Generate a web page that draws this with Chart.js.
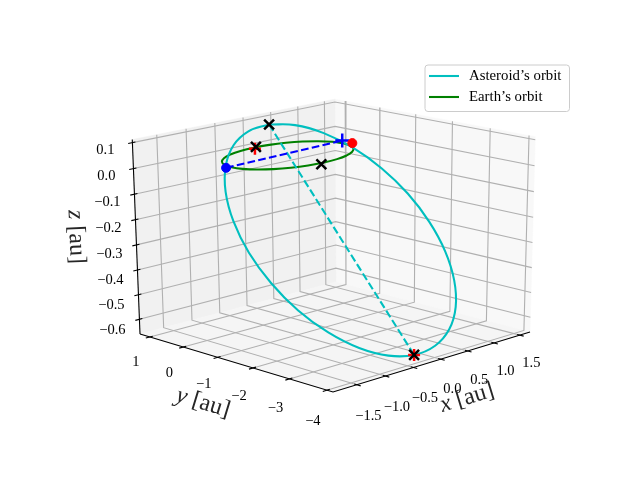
<!DOCTYPE html>
<html>
<head>
<meta charset="utf-8">
<script src="https://cdn.jsdelivr.net/npm/chart.js@4/dist/chart.umd.js"></script>
<style>
html, body { margin: 0; padding: 0; background: #fff; }
canvas { display: block; }
</style>
</head>
<body>
<canvas id="orbits" width="640" height="480"></canvas>
<script>
// values, in au
const xTicks = [-1.5, -1.0, -0.5, 0.0, 0.5, 1.0, 1.5];
const yTicks = [-4, -3, -2, -1, 0, 1];
const zTicks = [-0.6, -0.5, -0.4, -0.3, -0.2, -0.1, 0.0, 0.1];
const xTickLabels = ['−1.5', '−1.0', '−0.5', '0.0', '0.5', '1.0', '1.5'];
const yTickLabels = ['−4', '−3', '−2', '−1', '0', '1'];
const zTickLabels = ['−0.6', '−0.5', '−0.4', '−0.3', '−0.2', '−0.1', '0.0', '0.1'];
const xLim = [-1.91, 1.70];
const yLim = [-4.16, 1.30];
const zLim = [-0.66, 0.112];

const asteroidX = [0.067, 0.460, 0.810, 1.093, 1.289, 1.386, 1.376, 1.260, 1.046, 0.749, 0.389, -0.010,
    -0.420, -0.798, -1.133, -1.404, -1.590, -1.681, -1.669, -1.555, -1.347, -1.059, -0.712, -0.327, 0.067];
const asteroidY = [0.650, 0.529, 0.255, -0.152, -0.664, -1.248, -1.863, -2.467, -3.019, -3.482, -3.823, -4.021,
    -4.060, -3.940, -3.668, -3.263, -2.751, -2.168, -1.553, -0.949, -0.396, 0.068, 0.410, 0.609, 0.650];
const asteroidZ = [0.099, 0.082, 0.042, -0.019, -0.096, -0.184, -0.278, -0.370, -0.455, -0.527, -0.580, -0.612,
    -0.620, -0.603, -0.563, -0.502, -0.426, -0.337, -0.244, -0.151, -0.066, 0.006, 0.060, 0.091, 0.099];

const earthX = [1, 0.966, 0.866, 0.707, 0.5, 0.259, 0, -0.259, -0.5, -0.707, -0.866, -0.966,
    -1, -0.966, -0.866, -0.707, -0.5, -0.259, 0, 0.259, 0.5, 0.707, 0.866, 0.966, 1];
const earthY = [0, 0.259, 0.5, 0.707, 0.866, 0.966, 1, 0.966, 0.866, 0.707, 0.5, 0.259,
    0, -0.259, -0.5, -0.707, -0.866, -0.966, -1, -0.966, -0.866, -0.707, -0.5, -0.259, 0];
const earthZ = [0, 0, 0, 0, 0, 0, 0, 0, 0, 0, 0, 0, 0, 0, 0, 0, 0, 0, 0, 0, 0, 0, 0, 0, 0];

const apsideLine = [[0.067, 0.650, 0.099], [-0.420, -4.060, -0.620]];
const nodeLine = [[-1.07, 0.04, 0], [1.0, 0.02, 0.01]];
const blackCrosses = [[0.067, 0.650, 0.099], [-0.420, -4.060, -0.620], [0.05, 1.02, 0], [-0.09, -1.07, 0]];
const redPluses = [[-0.420, -4.060, -0.620], [0.02, 1.0, -0.005]];
const blueDot = [[-1.07, 0.04, 0]];
const redDot = [[1.09, -0.13, 0]];
const bluePlus = [[1.0, 0.02, 0.01]];

const legendLabels = ['Asteroid’s orbit', 'Earth’s orbit'];

// projective camera fitted to the corners of the box
function project(x, y, z) {
    var u = (x - xLim[0]) / (xLim[1] - xLim[0]);
    var v = (y - yLim[0]) / (yLim[1] - yLim[0]);
    var w = (z - zLim[0]) / (zLim[1] - zLim[0]);
    var d = 1 + 0.0762 * u + 0.0806 * v - 0.035 * w;
    return {
        x: (237.4 * u - 181.7 * v - 13 * w + 333) / d,
        y: (-34.7 * u - 31.1 * v - 215 * w + 392) / d
    };
}

function pts(list) {
    return list.map(function (p) { return project(p[0], p[1], p[2]); });
}

function zip3(a, b, c) {
    return a.map(function (v, i) { return [v, b[i], c[i]]; });
}

var datasets = [];

function addLine(list, color, width, extra) {
    datasets.push(Object.assign({
        data: pts(list),
        showLine: true,
        borderColor: color,
        borderWidth: width,
        pointRadius: 0,
        tension: 0,
        fill: false
    }, extra || {}));
}

function addMarks(list, style, color, radius, width) {
    datasets.push({
        data: pts(list),
        showLine: false,
        pointStyle: style,
        pointRadius: radius,
        pointBorderColor: color,
        pointBackgroundColor: color,
        pointBorderWidth: width
    });
}

var x0 = xLim[0], x1 = xLim[1], y0 = yLim[0], y1 = yLim[1], z0 = zLim[0], z1 = zLim[1];

// panes
function addPane(list, color) {
    addLine(list, color, 0.5, { backgroundColor: color, fill: 'shape' });
}
addPane([[x1, y0, z0], [x1, y1, z0], [x1, y1, z1], [x1, y0, z1], [x1, y0, z0]], '#f8f8f8');
addPane([[x0, y1, z0], [x1, y1, z0], [x1, y1, z1], [x0, y1, z1], [x0, y1, z0]], '#f1f1f1');
addPane([[x0, y0, z0], [x1, y0, z0], [x1, y1, z0], [x0, y1, z0], [x0, y0, z0]], '#f5f5f5');

// grid
var gridColor = '#b0b0b0';
xTicks.forEach(function (t) {
    addLine([[t, y1, z1], [t, y1, z0], [t, y0, z0]], gridColor, 1.1);
});
yTicks.forEach(function (t) {
    addLine([[x1, t, z1], [x1, t, z0], [x0, t, z0]], gridColor, 1.1);
});
zTicks.forEach(function (t) {
    addLine([[x0, y1, t], [x1, y1, t], [x1, y0, t]], gridColor, 1.1);
});

// axes and ticks
addLine([[x0, y1, z0], [x0, y0, z0], [x1, y0, z0]], '#000', 1.1);
addLine([[x0, y1, z0], [x0, y1, z1]], '#000', 1.1);
xTicks.forEach(function (t) {
    addLine([[t, y0 + 0.07, z0], [t, y0 - 0.1, z0]], '#000', 1.1);
});
yTicks.forEach(function (t) {
    addLine([[x0 + 0.05, t, z0], [x0 - 0.07, t, z0]], '#000', 1.1);
});
zTicks.forEach(function (t) {
    addLine([[x0 + 0.05, y1, t], [x0 - 0.07, y1, t]], '#000', 1.1);
});

// orbits
addLine(zip3(earthX, earthY, earthZ), '#008000', 2.08, { tension: 0.4 });
addLine(zip3(asteroidX, asteroidY, asteroidZ), '#00bfbf', 2.08, { tension: 0.4 });
addLine(apsideLine, '#00bfbf', 2.08, { borderDash: [7.7, 3.3] });
addLine(nodeLine, '#0000ff', 2.08, { borderDash: [7.7, 3.3] });

// markers
addMarks(redPluses, 'cross', '#ff0000', 6, 2.5);
addMarks(blackCrosses, 'crossRot', '#000', 7, 2.5);
addMarks(bluePlus, 'cross', '#0000ff', 7, 2.5);
addMarks(blueDot, 'circle', '#0000ff', 4.5, 1);
addMarks(redDot, 'circle', '#ff0000', 4.5, 1);

var serif = '"Liberation Serif", serif';

function drawLabel(ctx, parts, cx, cy, angle) {
    ctx.save();
    ctx.translate(cx, cy);
    ctx.rotate(angle * Math.PI / 180);
    ctx.textBaseline = 'middle';
    ctx.textAlign = 'left';
    var total = 0;
    parts.forEach(function (p) {
        ctx.font = p.font;
        total += ctx.measureText(p.text).width;
    });
    var pos = -total / 2;
    parts.forEach(function (p) {
        ctx.font = p.font;
        ctx.fillText(p.text, pos, 0);
        pos += ctx.measureText(p.text).width;
    });
    ctx.restore();
}

function axisLabel(letter) {
    return [
        { text: letter, font: 'italic 24px ' + serif },
        { text: ' [au]', font: '24px ' + serif }
    ];
}

var textPlugin = {
    id: 'textPlugin',
    afterDraw: function (chart) {
        var ctx = chart.ctx;
        ctx.save();
        ctx.fillStyle = '#000';
        ctx.textAlign = 'center';
        ctx.textBaseline = 'middle';
        ctx.font = '14.5px ' + serif;
        // label gap grows a bit towards the viewer
        xTicks.forEach(function (t, i) {
            var p = project(t, y0, z0);
            ctx.fillText(xTickLabels[i], p.x + 11.5, p.y + 31.3 - (i / 6) * 3.3);
        });
        yTicks.forEach(function (t, i) {
            var p = project(x0, t, z0);
            ctx.fillText(yTickLabels[i], p.x - 14, p.y + 30.8 - (i / 5) * 5.8);
        });
        zTicks.forEach(function (t, i) {
            var p = project(x0, y1, t);
            ctx.fillText(zTickLabels[i], p.x - 27, p.y + 10.8 - (i / 7) * 3.3);
        });

        ctx.fillStyle = '#262626';
        drawLabel(ctx, axisLabel('x'), 467, 398, -17);
        drawLabel(ctx, axisLabel('y'), 203, 403, 17);
        drawLabel(ctx, axisLabel('z'), 76, 237, 87.6);

        // legend
        ctx.beginPath();
        ctx.roundRect(425, 65, 144.5, 46.5, 3);
        ctx.fillStyle = 'rgba(255,255,255,0.8)';
        ctx.fill();
        ctx.strokeStyle = '#cccccc';
        ctx.lineWidth = 1;
        ctx.stroke();
        var colors = ['#00bfbf', '#008000'];
        var rows = [76, 97];
        legendLabels.forEach(function (label, i) {
            ctx.beginPath();
            ctx.moveTo(429, rows[i]);
            ctx.lineTo(459, rows[i]);
            ctx.strokeStyle = colors[i];
            ctx.lineWidth = 2.08;
            ctx.stroke();
            ctx.fillStyle = '#000';
            ctx.textAlign = 'left';
            ctx.font = '14.8px ' + serif;
            ctx.fillText(label, 469, rows[i]);
        });
        ctx.restore();
    }
};

// first dataset in the array is painted last, so flip the painter's order
new Chart(document.getElementById('orbits'), {
    type: 'scatter',
    data: { datasets: datasets.slice().reverse() },
    plugins: [textPlugin],
    options: {
        responsive: false,
        animation: false,
        layout: { padding: 0, autoPadding: false },
        plugins: { legend: { display: false }, tooltip: { enabled: false } },
        scales: {
            x: { type: 'linear', min: 0, max: 640, display: false },
            y: { type: 'linear', min: 0, max: 480, reverse: true, display: false }
        }
    }
});
</script>
</body>
</html>
